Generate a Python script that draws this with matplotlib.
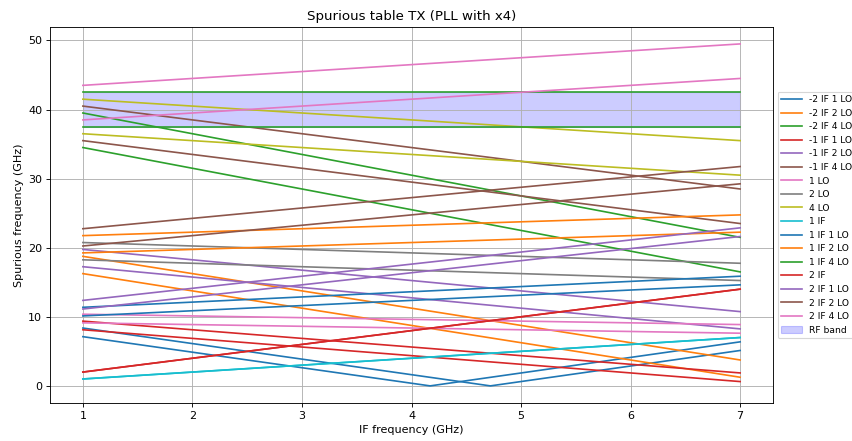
import matplotlib
matplotlib.use("Agg")
import matplotlib.pyplot as plt

# IF sweep limits (GHz)
if_range = [1, 7]

# RF band edges (GHz)
rf_low = 37.5
rf_high = 42.5

labels = ["-2 IF 1 LO", "-2 IF 2 LO", "-2 IF 4 LO",
          "-1 IF 1 LO", "-1 IF 2 LO", "-1 IF 4 LO",
          "1 LO", "2 LO", "4 LO", "1 IF",
          "1 IF 1 LO", "1 IF 2 LO", "1 IF 4 LO",
          "2 IF", "2 IF 1 LO", "2 IF 2 LO", "2 IF 4 LO"]

# spur frequency at IF = 1 and IF = 7, LO tuned for the upper RF edge
top_start = [8.375, 18.75, 39.5, 9.375, 19.75, 40.5, 10.375, 20.75, 41.5, 1,
             11.375, 21.75, 42.5, 2, 12.375, 22.75, 43.5]
top_end = [5.125, 3.75, 21.5, 1.875, 10.75, 28.5, 8.875, 17.75, 35.5, 7,
           15.875, 24.75, 42.5, 14, 22.875, 31.75, 49.5]

# same, LO tuned for the lower RF edge
bot_start = [7.125, 16.25, 34.5, 8.125, 17.25, 35.5, 9.125, 18.25, 36.5, 1,
             10.125, 19.25, 37.5, 2, 11.125, 20.25, 38.5]
bot_end = [6.375, 1.25, 16.5, 0.625, 8.25, 23.5, 7.625, 15.25, 30.5, 7,
           14.625, 22.25, 37.5, 14, 21.625, 29.25, 44.5]

# the -2 IF 1 LO spur folds through zero inside the sweep
fold_if_top = 4.72
fold_if_bot = 4.17

fig = plt.figure(figsize=(10.65, 5.5125), dpi=80)
ax = fig.add_axes([0.0587, 0.0862, 0.8486, 0.853])

for i, name in enumerate(labels):
    c = "C%d" % (i % 10)
    if i == 0:
        ax.plot([if_range[0], fold_if_top, if_range[1]],
                [top_start[i], 0, top_end[i]], color=c, label=name)
        ax.plot([if_range[0], fold_if_bot, if_range[1]],
                [bot_start[i], 0, bot_end[i]], color=c)
    else:
        ax.plot(if_range, [top_start[i], top_end[i]], color=c, label=name)
        ax.plot(if_range, [bot_start[i], bot_end[i]], color=c)

ax.fill_between(if_range, rf_low, rf_high, color="b", alpha=0.2, label="RF band")

ax.set_title("Spurious table TX (PLL with x4)")
ax.set_xlabel("IF frequency (GHz)")
ax.set_ylabel("Spurious frequency (GHz)")
ax.grid(True)
ax.legend(loc="center left", bbox_to_anchor=(1.0, 0.5), fontsize=8.2,
          handlelength=2.3)

fig.savefig("out.png", dpi=80)
